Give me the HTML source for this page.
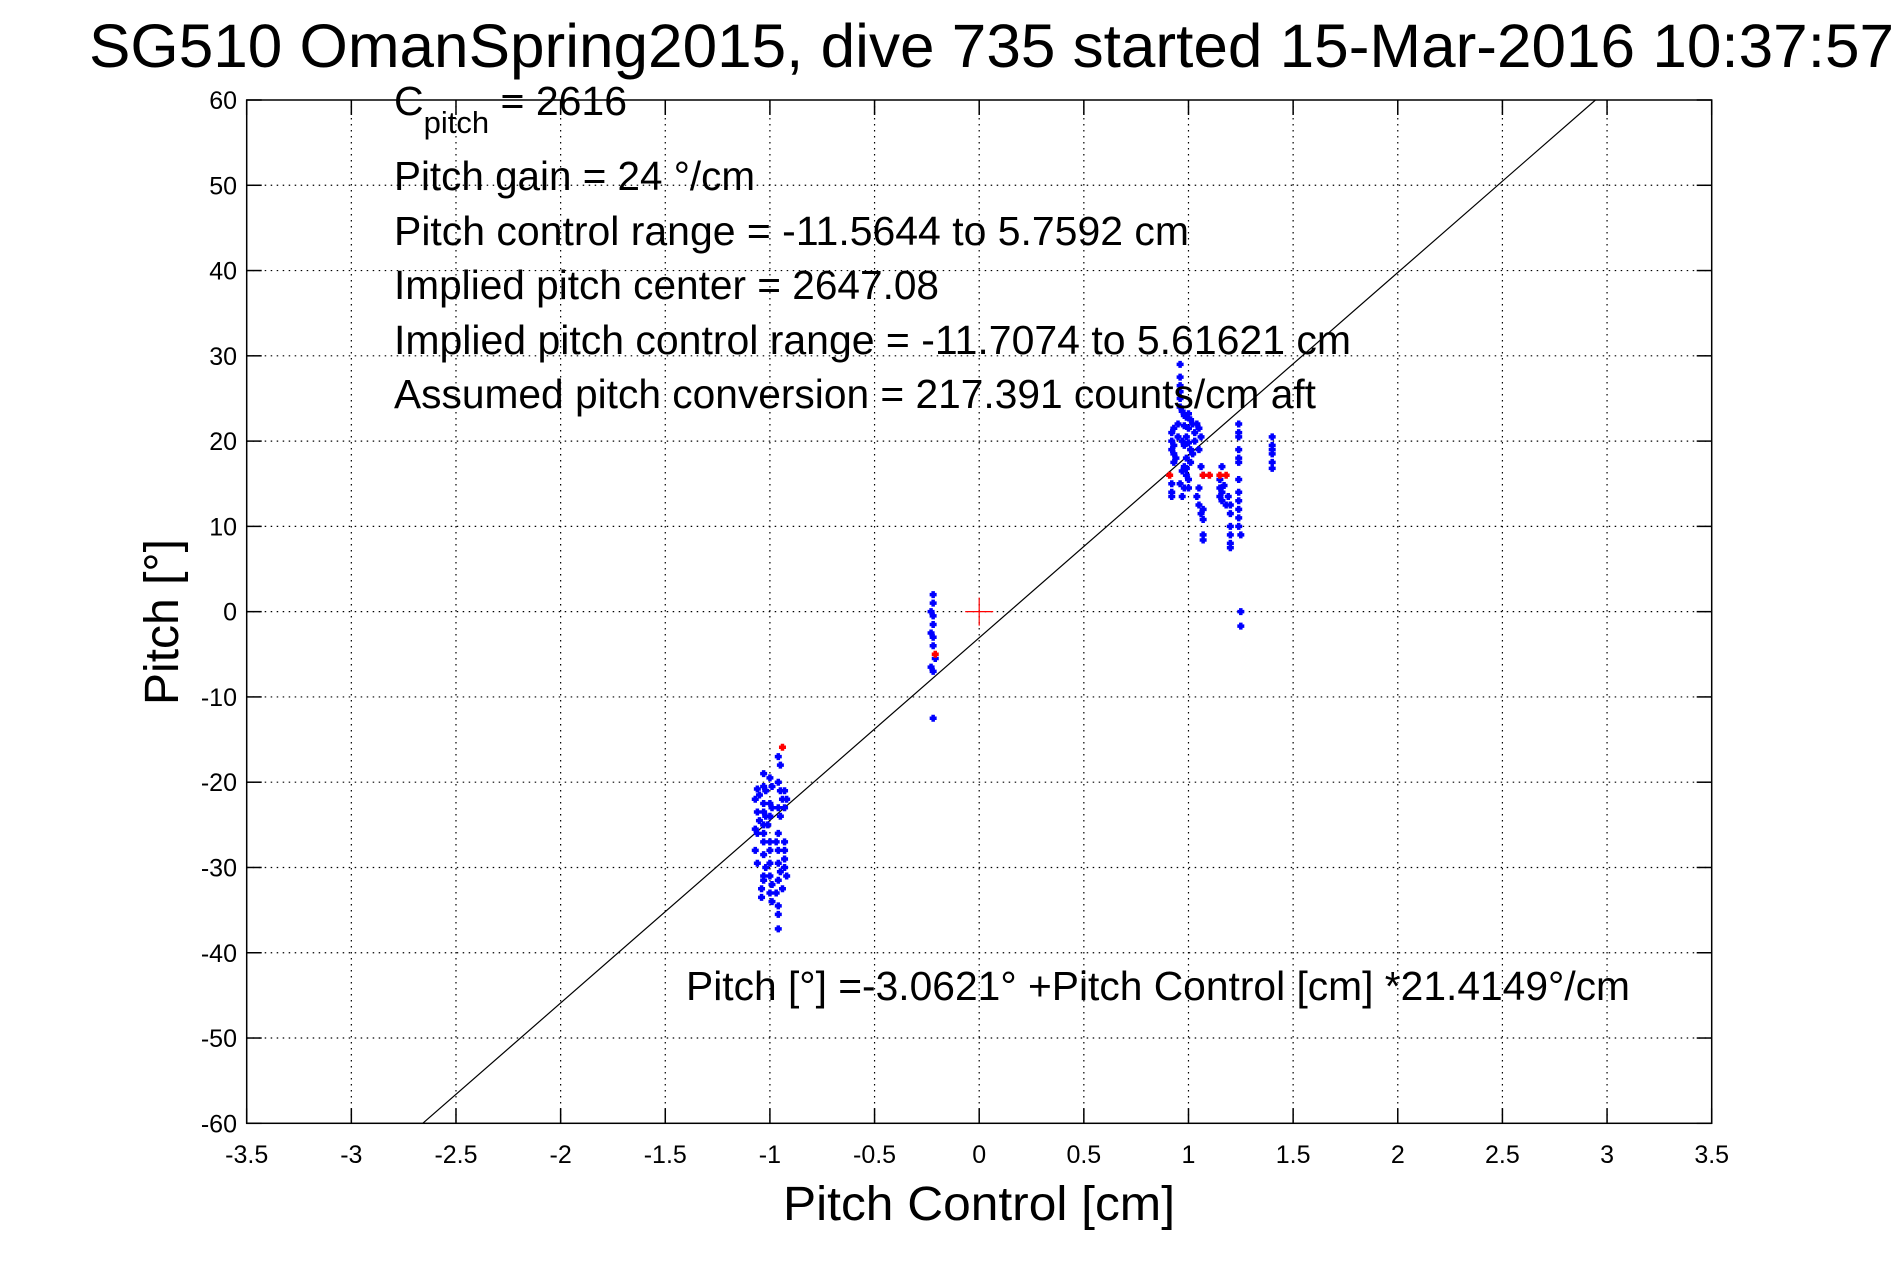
<!DOCTYPE html>
<html><head><meta charset="utf-8"><style>
html,body{margin:0;padding:0;background:#fff;}
svg{display:block;font-family:"Liberation Sans",sans-serif;}
</style></head><body>
<svg id="chart" width="1891" height="1262" viewBox="0 0 1891 1262" xmlns="http://www.w3.org/2000/svg">
<text x="89" y="67" font-size="61" textLength="1805" lengthAdjust="spacingAndGlyphs">SG510 OmanSpring2015, dive 735 started 15-Mar-2016 10:37:57</text>
<g id="grid"></g>
<g id="fitline"></g>
<g id="marks"></g>
<rect x="246.7" y="100" width="1465" height="1023.3" fill="none" stroke="#000" stroke-width="1.5"/>
<g id="ticks"></g>
<g font-size="41">
<text x="394" y="115">C<tspan font-size="31" dy="18">pitch</tspan><tspan dy="-18"> = 2616</tspan></text>
<text x="394" y="190" textLength="361" lengthAdjust="spacingAndGlyphs">Pitch gain = 24 °/cm</text>
<text x="394" y="245" textLength="795" lengthAdjust="spacingAndGlyphs">Pitch control range = -11.5644 to 5.7592 cm</text>
<text x="394" y="299" textLength="545" lengthAdjust="spacingAndGlyphs">Implied pitch center = 2647.08</text>
<text x="394" y="354" textLength="957" lengthAdjust="spacingAndGlyphs">Implied pitch control range = -11.7074 to 5.61621 cm</text>
<text x="394" y="408" textLength="922" lengthAdjust="spacingAndGlyphs">Assumed pitch conversion = 217.391 counts/cm aft</text>
<text x="686" y="1000" textLength="944" lengthAdjust="spacingAndGlyphs">Pitch [°] =-3.0621° +Pitch Control [cm] *21.4149°/cm</text>
</g>
<text x="979" y="1220" font-size="48" text-anchor="middle" textLength="392" lengthAdjust="spacingAndGlyphs">Pitch Control [cm]</text>
<text x="0" y="0" font-size="48" text-anchor="middle" transform="translate(178,622) rotate(-90)">Pitch [°]</text>
</svg>
<script>
const xTicks=[-3.5,-3,-2.5,-2,-1.5,-1,-0.5,0,0.5,1,1.5,2,2.5,3,3.5];
const yTicks=[60,50,40,30,20,10,0,-10,-20,-30,-40,-50,-60];
const fitIntercept=-3.0621;
const fitSlope=21.4149;
const blueX=[0.96,0.96,0.96,0.96,0.96,0.96,0.97,0.98,0.99,1.0,1.01,1.02,1.0,0.98,0.95,0.93,0.92,0.92,0.93,0.92,0.93,0.93,0.94,0.95,0.97,0.98,0.99,1.0,1.01,1.02,1.03,1.04,1.03,0.99,0.98,0.97,0.99,1.0,0.96,0.98,0.97,0.92,0.92,0.92,0.99,1.05,1.06,1.05,1.06,1.07,1.05,1.04,1.05,1.06,1.07,1.07,1.07,1.07,1.01,1.0,
1.16,1.15,1.15,1.15,1.16,1.16,1.17,1.19,1.2,1.2,1.2,1.2,1.2,1.2,1.18,
1.24,1.24,1.24,1.24,1.24,1.24,1.24,1.24,1.24,1.24,1.24,1.24,1.25,1.25,1.25,
1.4,1.4,1.4,1.4,1.4,1.4,
-1.06,-1.07,-1.05,-1.06,-1.07,-1.05,-1.06,-1.07,-1.06,
-1.03,-1.03,-1.02,-1.03,-1.03,-1.02,-1.03,-1.03,-1.03,-1.03,-1.02,-1.03,-1.03,-1.04,-1.04,
-1.0,-0.99,-1.0,-0.99,-1.0,-1.01,-1.0,-1.0,-1.0,-1.0,-0.99,-1.0,-0.99,
-0.96,-0.95,-0.96,-0.95,-0.94,-0.96,-0.95,-0.96,-0.97,-0.96,-0.96,-0.95,-0.96,-0.97,-0.96,-0.96,-0.96,
-0.93,-0.92,-0.93,-0.93,-0.93,-0.93,-0.93,-0.92,-0.94,
-0.22,-0.22,-0.23,-0.22,-0.22,-0.23,-0.22,-0.22,-0.21,-0.23,-0.22,-0.22];
const blueY=[29,27.5,26.5,25.8,25,24,23.5,23,22.8,23.2,22.5,22,21.5,21.8,22,21.5,21,20,19.5,19,18.5,17.5,18,20.5,20,19.5,20.5,19.8,19,18.5,21,22,20,18,17,16.5,16,15.5,15,14.5,13.5,14,13.5,15,16.8,21.5,20.5,19,17,16,14.5,13.5,12.5,11.5,12,10.8,9,8.4,17.5,14.5,
17,15.5,14.5,13.5,13,14,14.8,13.5,12.5,11.5,10,9,8,7.5,12.5,
22,21,20.5,19,18,17.5,15.5,14,13,12,11,10,9,0,-1.7,
20.5,19.5,19,18.5,17.5,16.8,
-20.8,-22,-21.5,-23.5,-25.5,-24.5,-26,-28,-29.5,
-19,-20.5,-21,-22.5,-23.5,-24,-25,-26,-27,-28.5,-30,-31,-31.5,-32.5,-33.5,
-19.5,-20.5,-22.5,-23,-24,-25,-27,-28,-29.5,-31,-32,-33,-34,
-17,-18,-20,-21,-22,-23,-24,-26,-27,-28,-29.5,-30.5,-31.5,-33,-34.5,-35.5,-37.2,
-21,-22,-23,-27,-28,-29,-30,-31,-32.5,
2,1,0,-0.5,-1.5,-2.5,-3,-4,-5.5,-6.5,-7,-12.5];
const redX=[-0.94,-0.21,0.91,1.07,1.1,1.15,1.18];
const redY=[-15.9,-5,16,16,16,16,16];
const centerX=[0];
const centerY=[0];

const NS="http://www.w3.org/2000/svg";
const L=246.7,R=1711.7,T=100,B=1123.3;
const xMin=-3.5,xMax=3.5,yMin=-60,yMax=60;
function sx(v){return L+(v-xMin)/(xMax-xMin)*(R-L);}
function sy(v){return B-(v-yMin)/(yMax-yMin)*(B-T);}
function mk(tag,attrs,parent){const e=document.createElementNS(NS,tag);for(const k in attrs)e.setAttribute(k,attrs[k]);parent.appendChild(e);return e;}
const grid=document.getElementById('grid'),ticks=document.getElementById('ticks');
xTicks.forEach(t=>{
  const x=sx(t);
  if(t>xMin&&t<xMax){
    const g=mk('line',{x1:x,x2:x,y1:T,y2:B,stroke:'#000','stroke-width':1.2,'stroke-dasharray':'1.5 4.5'},grid);
    
    
  }
  const a=mk('line',{x1:x,x2:x,y1:B,y2:B-15,stroke:'#000','stroke-width':1.5},ticks);
  
  
  const b=mk('line',{x1:x,x2:x,y1:T,y2:T+15,stroke:'#000','stroke-width':1.5},ticks);
  
  
  const tx=mk('text',{x:x,y:1163,'font-size':25,'text-anchor':'middle'},ticks);
  tx.textContent=String(t);
  
  
});
yTicks.forEach(t=>{
  const y=sy(t);
  if(t>yMin&&t<yMax){
    const g=mk('line',{x1:L,x2:R,y1:y,y2:y,stroke:'#000','stroke-width':1.2,'stroke-dasharray':'1.5 4.5'},grid);
    
    
  }
  const a=mk('line',{x1:L,x2:L+15,y1:y,y2:y,stroke:'#000','stroke-width':1.5},ticks);
  
  
  const b=mk('line',{x1:R,x2:R-15,y1:y,y2:y,stroke:'#000','stroke-width':1.5},ticks);
  
  
  const tx=mk('text',{x:237,y:y+9,'font-size':25,'text-anchor':'end'},ticks);
  tx.textContent=String(t);
  
  
});
const fl=document.getElementById('fitline');
let x0=(yMin-fitIntercept)/fitSlope,x1=(yMax-fitIntercept)/fitSlope;
x0=Math.max(x0,xMin);x1=Math.min(x1,xMax);
const line=mk('line',{x1:sx(x0),y1:sy(fitIntercept+fitSlope*x0),x2:sx(x1),y2:sy(fitIntercept+fitSlope*x1),stroke:'#000','stroke-width':1.2},fl);


const marks=document.getElementById('marks');
function plus(x,y,s){return `M${x-s},${y}H${x+s}M${x},${y-s}V${y+s}`;}
let d='';
blueX.forEach((v,i)=>{d+=plus(sx(v),sy(blueY[i]),3.5);});
const bp=mk('path',{d:d,stroke:'#0000ff','stroke-width':3.5,fill:'none'},marks);


let dr='';
redX.forEach((v,i)=>{dr+=plus(sx(v),sy(redY[i]),3.5);});
const rp=mk('path',{d:dr,stroke:'#ff0000','stroke-width':3.5,fill:'none'},marks);


const cp=mk('path',{d:plus(sx(centerX[0]),sy(centerY[0]),14),stroke:'#ff0000','stroke-width':1.2,fill:'none'},marks);


</script>
</body></html>
